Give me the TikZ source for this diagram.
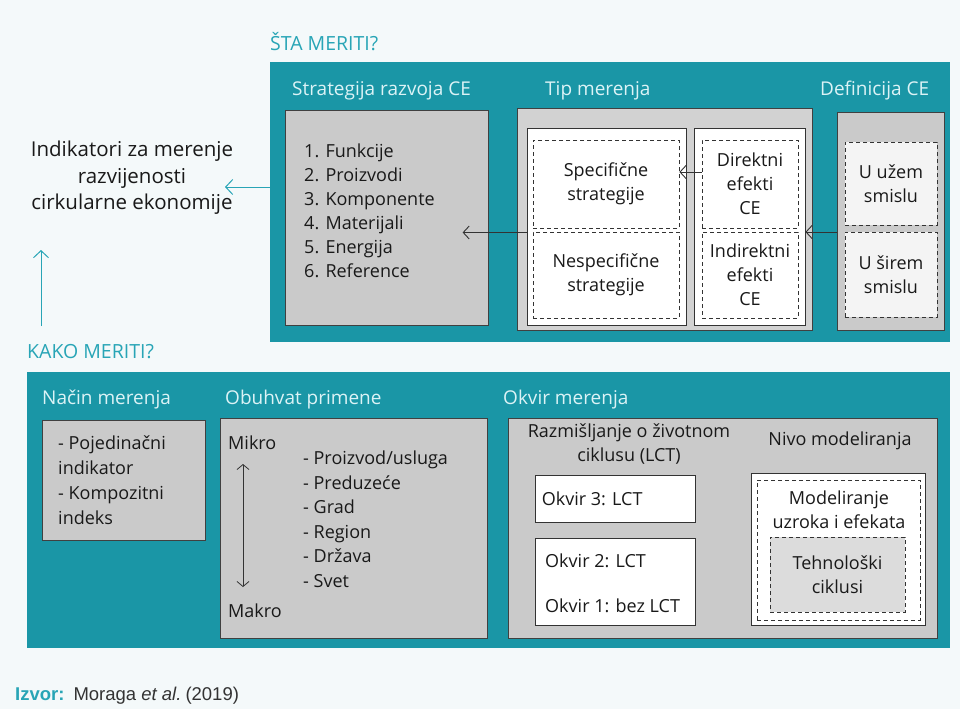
\documentclass[tikz,border=0pt]{standalone}
\usepackage{fontspec}
\setmainfont{Open Sans}
\newfontfamily\arialf{Liberation Sans}
\usetikzlibrary{arrows.meta,fit}
\definecolor{bgc}{RGB}{244,249,250}
\definecolor{tealp}{RGB}{26,150,166}
\definecolor{tealt}{RGB}{40,165,182}
\definecolor{hdr}{RGB}{220,243,246}
\definecolor{grayb}{RGB}{202,202,202}
\definecolor{grayc}{RGB}{210,210,210}
\definecolor{lightw}{RGB}{244,244,244}
\definecolor{txt}{RGB}{25,25,25}
\begin{document}
\begin{tikzpicture}[x=1pt,y=-1pt,
  panel/.style={fill=tealp, draw=none, inner sep=0pt},
  graybox/.style={fill=grayb, draw=black!75, line width=0.8pt, inner sep=0pt},
  whitebox/.style={fill=white, draw=black!80, line width=0.8pt, inner sep=0pt},
  dbox/.style={draw=black!80, dashed, dash pattern=on 4pt off 3pt, line width=0.8pt, inner sep=0pt, align=center, text=txt},
  hd/.style={text=hdr, font=\fontsize{19}{22}\selectfont, anchor=base west, inner sep=0pt},
  ttl/.style={text=tealt, font=\fontsize{19.5}{22}\selectfont, anchor=base west, inner sep=0pt},
  tx/.style={text=txt, font=\fontsize{18}{24.5}\selectfont, inner sep=0pt},
  arr/.style={draw=black!80, line width=0.9pt, -{Straight Barb[length=6pt,width=13pt]}},
  tarr/.style={draw=tealt, line width=1pt, -{Straight Barb[length=7pt,width=15pt]}},
  darr/.style={draw=black!80, line width=0.8pt, {Straight Barb[length=5pt,width=12pt]}-{Straight Barb[length=5pt,width=12pt]}}
]
\useasboundingbox[fill=bgc] (0,0) rectangle (960,709);

% ---------- top panel ----------
\node[ttl] (sta) at (270,51) {ŠTA MERITI?};
\node[panel, fit={(270,62) (950,342)}] (top) {};
\node[hd] (hstra) at (292,95) {Strategija razvoja CE};
\node[hd] (htip) at (545,95) {Tip merenja};
\node[hd] (hdef) at (820,95) {Definicija CE};

\node[graybox, fit={(285,110) (488,325)}] (box1) {};
\node[tx, align=left, anchor=west, font=\fontsize{18}{24}\selectfont] (list1) at (304,211) {1. Funkcije\\2. Proizvodi\\3. Komponente\\4. Materijali\\5. Energija\\6. Reference};

\node[graybox, fill=grayc, fit={(517,108) (812,330)}] (tipbox) {};
\node[whitebox, fit={(527,128) (686,325)}] (whA) {};
\node[dbox, fit={(533,140) (679,228)}] (spec) {};
\node[tx, align=center] at (spec.center) {Specifične\\strategije};
\node[dbox, fit={(533,232) (679,318)}] (nsp) {};
\node[tx, align=center] at (nsp.center) {Nespecifične\\strategije};
\node[whitebox, fit={(694,128) (805,325)}] (whB) {};
\node[dbox, fit={(702,140) (798,228)}] (dir) {};
\node[tx, align=center, font=\fontsize{18}{24}\selectfont] at (dir.center) {Direktni\\efekti\\CE};
\node[dbox, fit={(702,232) (798,318)}] (ind) {};
\node[tx, align=center, font=\fontsize{18}{24}\selectfont] at (ind.center) {Indirektni\\efekti\\CE};

\node[graybox, fit={(837,112) (944,330)}] (defbox) {};
\node[dbox, fill=lightw, fit={(845,142) (937,225)}] (uzem) {};
\node[tx, align=center] at (uzem.center) {U užem\\smislu};
\node[dbox, fill=lightw, fit={(845,232) (937,317)}] (sirem) {};
\node[tx, align=center] at (sirem.center) {U širem\\smislu};

% arrows top
\draw[arr] ([yshift=12pt]dir.west) -- ([yshift=12pt]dir.west -| spec.east);
\draw[arr] ([yshift=-11pt]defbox.west) -- ([yshift=-11pt]defbox.west -| whB.east);
\draw[arr] ([yshift=-6pt]whA.west) -- ++(-64,0);

% left text
\node[tx, align=center, font=\fontsize{20.5}{26.5}\selectfont] (indik) at (132,178) {Indikatori za merenje\\razvijenosti\\cirkularne ekonomije};
\draw[tarr] ([yshift=15pt]top.west) -- ([yshift=15pt]top.west -| 225,0);
\node[ttl] (kako) at (27,358) {KAKO MERITI?};
\coordinate (upS) at (41,326);
\coordinate (upE) at (41,250);
\draw[tarr] (upS) -- (upE);

% ---------- bottom panel ----------
\node[panel, fit={(27,372) (950,648)}] (bot) {};
\node[hd] (hnac) at (42,404) {Način merenja};
\node[hd] (hobu) at (225,404) {Obuhvat primene};
\node[hd] (hokv) at (503,404) {Okvir merenja};

\node[graybox, fit={(42,420) (205,540)}] (nac) {};
\node[tx, align=left, anchor=west, font=\fontsize{18}{25}\selectfont] at (58,480) {- Pojedinačni\\indikator\\- Kompozitni\\indeks};

\node[graybox, fit={(220,418) (487,638)}] (obu) {};
\node[tx, anchor=base west] (mikro) at (228,449) {Mikro};
\node[tx, anchor=base west] (makro) at (228,617) {Makro};
\coordinate (mkA) at (243,464);
\coordinate (mkB) at (243,587);
\draw[darr] (mkA) -- (mkB);
\node[tx, align=left, anchor=west] at (303,519) {- Proizvod/usluga\\- Preduzeće\\- Grad\\- Region\\- Država\\- Svet};

\node[graybox, fit={(508,418) (937,638)}] (okv) {};
\node[tx, align=center, font=\fontsize{18}{24}\selectfont] at (629,444) {Razmišljanje o životnom\\ciklusu (LCT)};
\node[tx] at (840,441) {Nivo modeliranja};
\node[whitebox, fit={(535,475) (695,522)}] (ok3) {};
\node[tx, anchor=west] at ([xshift=7pt]ok3.west) {Okvir 3: LCT};
\node[whitebox, fit={(535,538) (695,625)}] (ok21) {};
\node[tx, anchor=base west] at (545,567) {Okvir 2: LCT};
\node[tx, anchor=base west] at (545,612) {Okvir 1: bez LCT};
\node[whitebox, fit={(751,473) (925,625)}] (niv) {};
\node[dbox, fit={(757,480) (920,620)}] (mod) {};
\node[tx, align=center, font=\fontsize{18}{24}\selectfont] at (839,510) {Modeliranje\\uzroka i efekata};
\node[dbox, fill=lightw!90!black, fit={(770,537) (905,612)}] (teh) {};
\node[tx, align=center, font=\fontsize{18}{24}\selectfont] at (teh.center) {Tehnološki\\ciklusi};

% source
\node[anchor=base west, inner sep=0pt, font=\arialf\fontsize{18.5}{22}\selectfont, text=black!80] (src) at (15,700) {\textcolor{tealt}{\textbf{Izvor:}}\hspace{9pt}Moraga \textit{et al.}\hspace{4pt}(2019)};
\end{tikzpicture}
\end{document}
